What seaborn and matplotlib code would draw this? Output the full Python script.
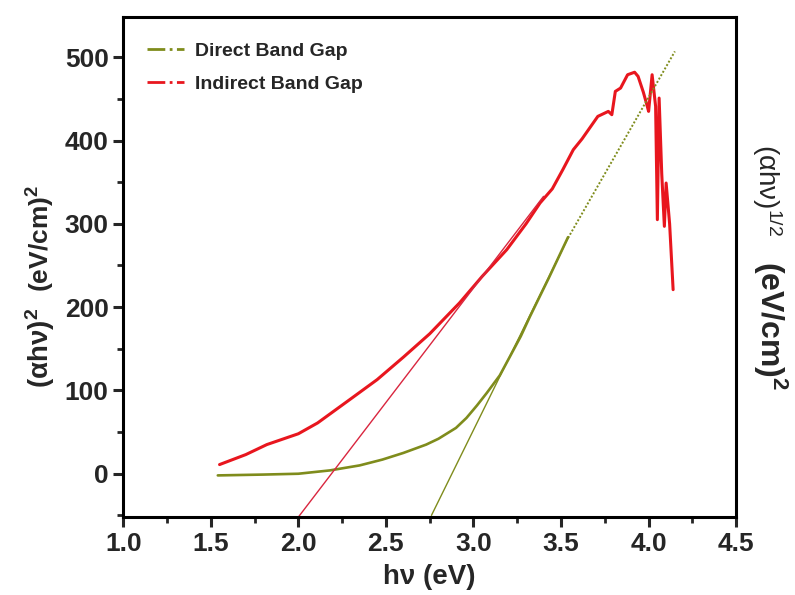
import numpy as np
import pandas as pd
import matplotlib
matplotlib.use("Agg")
import matplotlib.pyplot as plt
from matplotlib.lines import Line2D
from matplotlib.ticker import MultipleLocator
import seaborn as sns

# data
direct_x = [1.54, 1.80, 2.00, 2.18, 2.35, 2.48, 2.60, 2.73, 2.80, 2.90, 2.96, 3.02, 3.076, 3.15, 3.209,
            3.27, 3.323, 3.43, 3.54]
direct_y = [-2, -1, 0, 4, 10, 17, 25, 35, 42, 55, 67, 82, 97, 118, 141,
            165, 189, 235, 284]

indirect_x = [1.55, 1.70, 1.82, 2.00, 2.11, 2.30, 2.45, 2.60, 2.75, 2.92, 3.05, 3.19, 3.30, 3.38, 3.45, 3.51,
              3.57, 3.62, 3.67, 3.71, 3.75, 3.77, 3.79, 3.81, 3.84, 3.88, 3.92, 3.94, 3.97, 3.99, 4.00,
              4.02, 4.04, 4.05, 4.06, 4.075, 4.09, 4.10, 4.12, 4.14]
indirect_y = [11, 23, 35, 48, 61, 90, 113, 140, 168, 205, 237, 269, 300, 325, 342, 365,
              389, 402, 417, 429, 433, 435, 431, 459, 463, 479, 482, 477, 458, 443, 435,
              479, 441, 305, 451, 360, 297, 349, 300, 221]

# fitted straight lines (tangents)
direct_fit_x = [2.76, 3.54]
direct_fit_y = [-50, 283]
direct_ext_x = [3.54, 4.15]
direct_ext_y = [283, 507]
indirect_fit_x = [2.00, 3.40]
indirect_fit_y = [-52, 333]

legend_labels = ["Direct Band Gap", "Indirect Band Gap"]
x_ticks = [1.0, 1.5, 2.0, 2.5, 3.0, 3.5, 4.0, 4.5]
y_ticks = [0, 100, 200, 300, 400, 500]

red = "#e8161e"
olive = "#7f8c1c"

sns.set_style("ticks")
plt.rcParams["font.family"] = ["Liberation Sans", "DejaVu Sans"]
plt.rcParams["font.weight"] = "bold"
plt.rcParams["mathtext.default"] = "regular"

fig = plt.figure(figsize=(7.95, 5.95), dpi=100)
ax = fig.add_axes([0.155, 0.131, 0.771, 0.840])

df_direct = pd.DataFrame({"x": direct_x, "y": direct_y})
df_indirect = pd.DataFrame({"x": indirect_x, "y": indirect_y})

sns.lineplot(data=df_indirect, x="x", y="y", sort=False, color=red, linewidth=2.2, ax=ax)
sns.lineplot(data=df_direct, x="x", y="y", sort=False, color=olive, linewidth=1.9, ax=ax)
sns.lineplot(x=indirect_fit_x, y=indirect_fit_y, color="#d9263f", linewidth=1.0, ax=ax)
sns.lineplot(x=direct_fit_x, y=direct_fit_y, color=olive, linewidth=1.0, ax=ax)
sns.lineplot(x=direct_ext_x, y=direct_ext_y, color=olive, linewidth=1.4, linestyle=(0, (1, 1)), ax=ax)

ax.set_xlim(1.0, 4.5)
ax.set_ylim(-52, 548)
ax.set_xticks(x_ticks)
ax.set_yticks(y_ticks)
ax.xaxis.set_minor_locator(MultipleLocator(0.25))
ax.yaxis.set_minor_locator(MultipleLocator(50))
ax.tick_params(axis="both", which="major", direction="out", length=7, width=2.2,
               labelsize=19, top=False, right=False)
ax.tick_params(axis="both", which="minor", direction="out", length=4.5, width=2.0,
               top=False, right=False)
for lab in ax.get_xticklabels() + ax.get_yticklabels():
    lab.set_fontweight("bold")
for s in ax.spines.values():
    s.set_visible(True)
    s.set_linewidth(2.2)
    s.set_color("black")

ax.set_xlabel("h\u03bd (eV)", fontsize=20, fontweight="bold", labelpad=6)
ax.set_ylabel("")

# left label, in two pieces
fig.text(0.051, 0.600, r"(eV/cm)$^2$", rotation=90, ha="center", va="center",
         fontsize=19, fontweight="bold")
fig.text(0.050, 0.415, r"$(\alpha h\nu)^2$", rotation=90, ha="center", va="center",
         fontsize=20, fontweight="bold")
# right label
fig.text(0.965, 0.680, r"$(\alpha h\nu)^{1/2}$", rotation=-90, ha="center", va="center",
         fontsize=20, fontweight="normal")
fig.text(0.969, 0.452, r"(eV/cm)$^2$", rotation=-90, ha="center", va="center",
         fontsize=23, fontweight="bold")

handles = [Line2D([], [], color=olive, linestyle="-.", linewidth=2.0),
           Line2D([], [], color=red, linestyle="-.", linewidth=2.0)]
ax.legend(handles, legend_labels, loc="upper left", frameon=False,
          handlelength=1.9, handletextpad=0.6, bbox_to_anchor=(0.01, 0.985), labelspacing=0.8,
          prop={"weight": "bold", "size": 14})

fig.savefig("out.png", dpi=100)
